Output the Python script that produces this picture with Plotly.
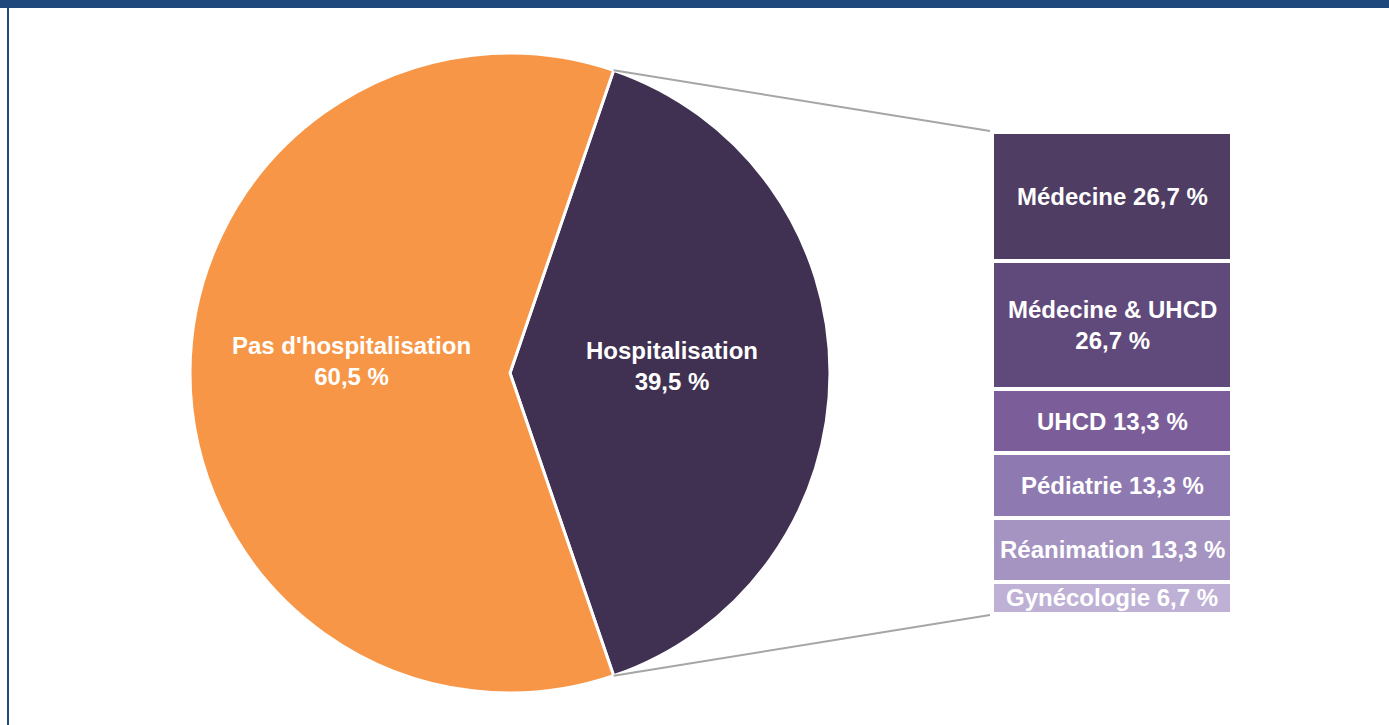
import math
import plotly.graph_objects as go

# pie data
pie_labels = ["Hospitalisation", "Pas d'hospitalisation"]
pie_values = [39.5, 60.5]
pie_text = ["Hospitalisation<br>39,5 %", "Pas d'hospitalisation<br>60,5 %"]
pie_colors = ["#403152", "#F79646"]

# breakdown of hospitalisation
unit_labels = ["Médecine", "Médecine & UHCD", "UHCD", "Pédiatrie", "Réanimation", "Gynécologie"]
unit_values = [26.7, 26.7, 13.3, 13.3, 13.3, 6.7]
unit_text = ["Médecine 26,7 %", "Médecine & UHCD<br>26,7 %", "UHCD 13,3 %",
             "Pédiatrie 13,3 %", "Réanimation 13,3 %", "Gynécologie 6,7 %"]
unit_colors = ["#4F3D63", "#604A7B", "#7A5D99", "#8E79B0", "#A594C1", "#BEB1D5"]

W, H = 1389, 725
FONT = "Liberation Sans, Arial, sans-serif"
FSIZE = 24

# pie geometry in pixels
cx, cy, r = 510, 373, 320
rotation = 90 - pie_values[0] * 3.6 / 2


def px(x):
    return x / W


def py(y):
    return 1 - y / H


fig = go.Figure()

fig.add_trace(go.Pie(
    labels=pie_labels,
    values=pie_values,
    sort=False,
    direction="clockwise",
    rotation=rotation,
    marker=dict(colors=pie_colors, line=dict(color="white", width=3)),
    textinfo="none",
    hoverinfo="label+percent",
    showlegend=False,
    domain=dict(x=[px(cx - r), px(cx + r)], y=[py(cy + r), py(cy - r)]),
))

# stacked bar (bottom segment first)
bar_top, bar_bottom = 132, 614
for lab, val, col in reversed(list(zip(unit_labels, unit_values, unit_colors))):
    fig.add_trace(go.Bar(
        x=[0], y=[val], width=1, name=lab,
        marker=dict(color=col, line=dict(color="white", width=4)),
        showlegend=False, hoverinfo="name+y",
    ))

base = 100
for txt, val in zip(unit_text, unit_values):
    fig.add_annotation(
        x=0, y=base - val / 2, xref="x", yref="y", text="<b>" + txt + "</b>",
        showarrow=False, xanchor="center", yanchor="middle",
        font=dict(family=FONT, size=FSIZE, color="white"),
    )
    base -= val

# pie labels
fig.add_annotation(x=px(672), y=py(366), xref="paper", yref="paper",
                   text="<b>" + pie_text[0] + "</b>", showarrow=False,
                   xanchor="center", yanchor="middle",
                   font=dict(family=FONT, size=FSIZE, color="white"))
fig.add_annotation(x=px(351), y=py(361), xref="paper", yref="paper",
                   text="<b>" + pie_text[1] + "</b>", showarrow=False,
                   xanchor="center", yanchor="middle",
                   font=dict(family=FONT, size=FSIZE, color="white"))

# connector lines from the hospitalisation slice to the bar
a0 = math.radians(rotation)
a1 = math.radians(rotation + pie_values[0] * 3.6)
top_pt = (cx + r * math.sin(a0), cy - r * math.cos(a0))
bot_pt = (cx + r * math.sin(a1), cy - r * math.cos(a1))
shapes = [
    dict(type="line", xref="paper", yref="paper",
         x0=px(top_pt[0]), y0=py(top_pt[1]), x1=px(990), y1=py(131),
         line=dict(color="#A6A6A6", width=2)),
    dict(type="line", xref="paper", yref="paper",
         x0=px(bot_pt[0]), y0=py(bot_pt[1]), x1=px(990), y1=py(615),
         line=dict(color="#A6A6A6", width=2)),
    # frame
    dict(type="rect", xref="paper", yref="paper", x0=0, x1=1, y0=py(8), y1=1,
         fillcolor="#1F497D", line=dict(width=0)),
    dict(type="rect", xref="paper", yref="paper", x0=px(7), x1=px(9), y0=0, y1=1,
         fillcolor="#1F497D", line=dict(width=0)),
]

fig.update_layout(
    width=W, height=H,
    margin=dict(l=0, r=0, t=0, b=0),
    paper_bgcolor="white", plot_bgcolor="white",
    barmode="stack",
    shapes=shapes,
    xaxis=dict(domain=[px(992), px(1232)], range=[-0.5, 0.5], visible=False, fixedrange=True),
    yaxis=dict(domain=[py(bar_bottom), py(bar_top)], range=[0, 100], visible=False, fixedrange=True),
)

fig.write_html("out.html", config={"displayModeBar": False},
               post_script="document.body.style.margin='0';")
